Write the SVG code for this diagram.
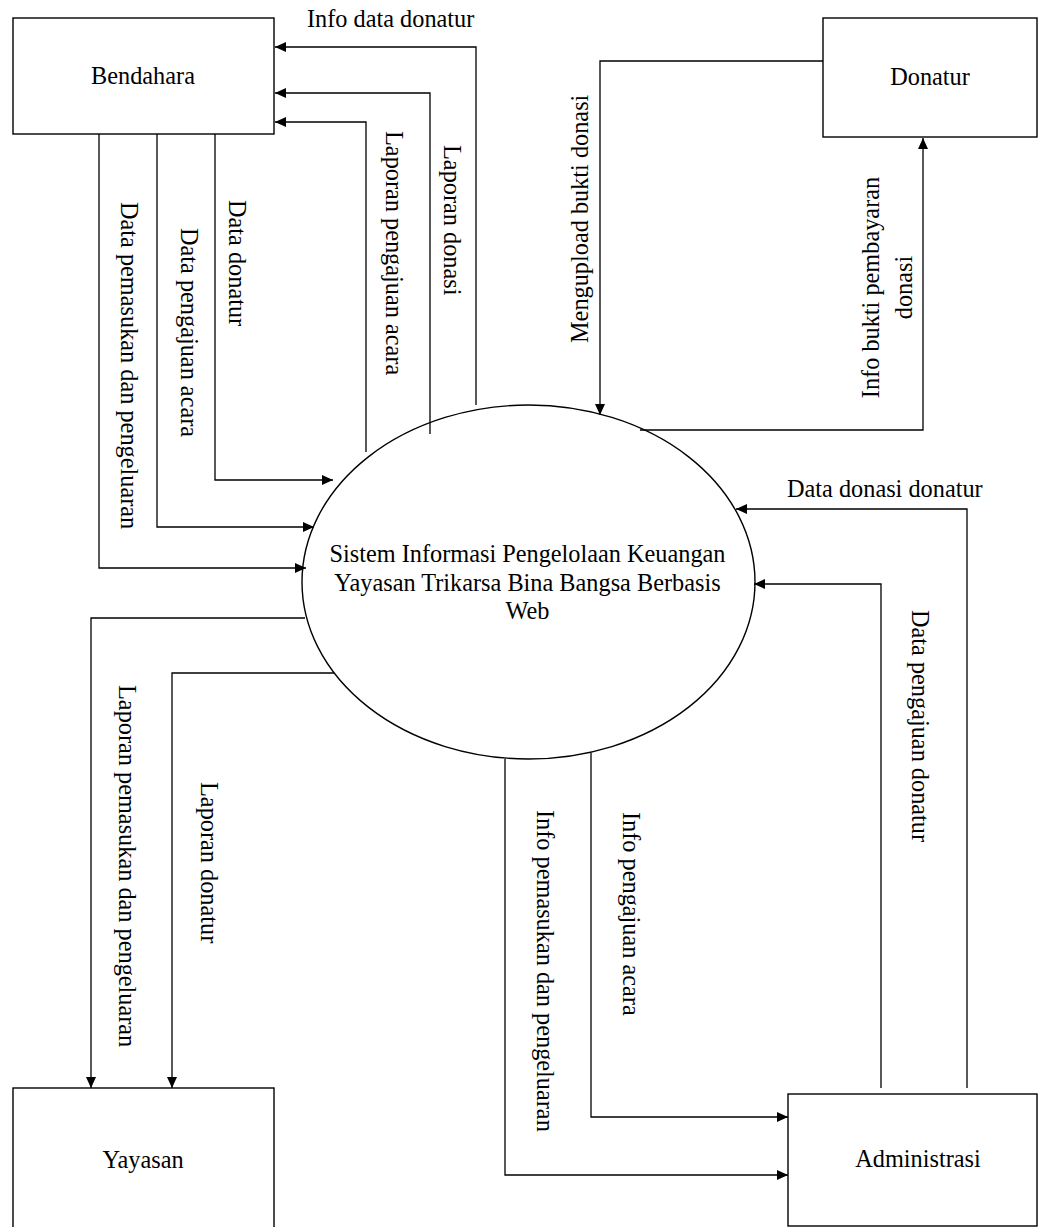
<svg xmlns="http://www.w3.org/2000/svg" width="1040" height="1227" viewBox="0 0 1040 1227">
<style>
.box{fill:#fff;stroke:#000;stroke-width:1.4}
.ln{fill:none;stroke:#000;stroke-width:1.3}
text{font-family:"Liberation Serif","Times New Roman",serif;font-size:24.3px;fill:#000}
.c{text-anchor:middle}
</style>
<defs>
<marker id="ah" markerUnits="userSpaceOnUse" markerWidth="12" markerHeight="10" refX="11" refY="5" orient="auto">
<path d="M0,0 L11,5 L0,10 z" fill="#000"/>
</marker>
</defs>
<rect width="1040" height="1227" fill="#fff"/>
<g id="connectors">
<polyline class="ln" points="476,405 476,47 275,47" marker-end="url(#ah)"/>
<polyline class="ln" points="430,434 430,93 275,93" marker-end="url(#ah)"/>
<polyline class="ln" points="366,452 366,122 275,122" marker-end="url(#ah)"/>
<polyline class="ln" points="215,134 215,480 333,480" marker-end="url(#ah)"/>
<polyline class="ln" points="157,134 157,527 314,527" marker-end="url(#ah)"/>
<polyline class="ln" points="99,134 99,568 306,568" marker-end="url(#ah)"/>
<polyline class="ln" points="823,61 600,61 600,415" marker-end="url(#ah)"/>
<polyline class="ln" points="640,430 923,430 923,138" marker-end="url(#ah)"/>
<polyline class="ln" points="967,1088 967,509 736,509" marker-end="url(#ah)"/>
<polyline class="ln" points="881,1088 881,584 754,584" marker-end="url(#ah)"/>
<polyline class="ln" points="591,753 591,1117 788,1117" marker-end="url(#ah)"/>
<polyline class="ln" points="505,759 505,1175 788,1175" marker-end="url(#ah)"/>
<polyline class="ln" points="305,618 91,618 91,1088" marker-end="url(#ah)"/>
<polyline class="ln" points="334,673 172,673 172,1088" marker-end="url(#ah)"/>
<text x="307" y="27">Info data donatur</text>
<text transform="translate(444,145) rotate(90)">Laporan donasi</text>
<text transform="translate(386,131) rotate(90)">Laporan pengajuan acara</text>
<text transform="translate(229,200) rotate(90)">Data donatur</text>
<text transform="translate(181,228) rotate(90)">Data pengajuan acara</text>
<text transform="translate(121,202) rotate(90)">Data pemasukan dan pengeluaran</text>
<text transform="translate(588,343) rotate(-90)">Mengupload bukti donasi</text>
<text class="c" transform="translate(879,287.5) rotate(-90)">Info bukti pembayaran</text>
<text class="c" transform="translate(912,287.5) rotate(-90)">donasi</text>
<text x="787" y="497">Data donasi donatur</text>
<text transform="translate(912,610) rotate(90)">Data pengajuan donatur</text>
<text transform="translate(623,812) rotate(90)">Info pengajuan acara</text>
<text transform="translate(537,810) rotate(90)">Info pemasukan dan pengeluaran</text>
<text transform="translate(119,685) rotate(90)">Laporan pemasukan dan pengeluaran</text>
<text transform="translate(201,782) rotate(90)">Laporan donatur</text>
</g>
<g id="bendahara">
<rect class="box" x="13" y="18" width="261" height="116"/>
<text class="c" x="143" y="84">Bendahara</text>
</g>
<g id="donatur">
<rect class="box" x="823" y="18" width="214" height="119"/>
<text class="c" x="930" y="85">Donatur</text>
</g>
<g id="sistem">
<ellipse class="box" cx="528.5" cy="582" rx="226.5" ry="177" fill="none" style="fill:none"/>
<text class="c" x="527.5" y="562">Sistem Informasi Pengelolaan Keuangan</text>
<text class="c" x="527.5" y="591">Yayasan Trikarsa Bina Bangsa Berbasis</text>
<text class="c" x="527.5" y="619">Web</text>
</g>
<g id="yayasan">
<rect class="box" x="13" y="1088" width="261" height="145"/>
<text class="c" x="143" y="1168">Yayasan</text>
</g>
<g id="administrasi">
<rect class="box" x="788" y="1094" width="249" height="132"/>
<text class="c" x="918" y="1167">Administrasi</text>
</g>
</svg>
